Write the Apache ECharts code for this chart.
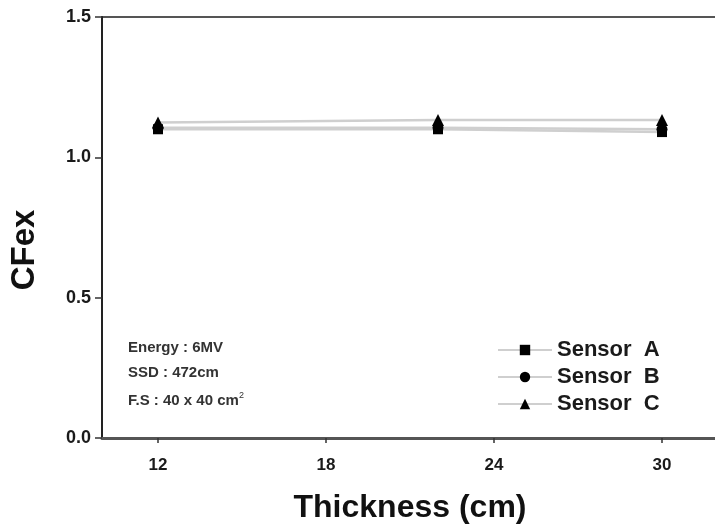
<!DOCTYPE html>
<html><head><meta charset="utf-8">
<script src="https://cdn.jsdelivr.net/npm/echarts@6/dist/echarts.min.js"></script>
<style>html,body{margin:0;padding:0;background:#fff}#c{width:715px;height:530px}</style>
</head><body><div id="c"></div>
<script>
const thickness = [12, 22, 30];
const sensorA = [1.10, 1.10, 1.09];
const sensorB = [1.105, 1.105, 1.10];
const sensorC = [1.124, 1.133, 1.133];
const seriesNames = ['Sensor  A', 'Sensor  B', 'Sensor  C'];
const xTicks = [12, 18, 24, 30];
const yTicks = [0.0, 0.5, 1.0, 1.5];
const notes = ['Energy : 6MV', 'SSD : 472cm', 'F.S : 40 x 40 cm{s|2}'];

const FONT = '"Liberation Sans", Arial, sans-serif';
const chart = echarts.init(document.getElementById('c'), null, {renderer: 'canvas'});
const symbols = ['rect', 'circle', 'triangle'];
const sizes = [10, 11, 12];
const data = [sensorA, sensorB, sensorC];
const series = data.map((vals, i) => ({
  name: seriesNames[i],
  type: 'line',
  data: vals.map((v, j) => [thickness[j], v]),
  symbol: symbols[i],
  symbolSize: sizes[i],
  itemStyle: {color: '#000'},
  lineStyle: {color: '#cfcfcf', width: 2.5},
  z: 3 + i
}));

chart.setOption({
  animation: false,
  backgroundColor: '#fff',
  grid: {left: 102, width: 616, top: 17, height: 421, outerBoundsMode: 'none', containLabel: false,
    show: true, borderColor: '#555', borderWidth: 2},
  legend: {
    orient: 'vertical', left: 492, top: 334, itemWidth: 54, itemHeight: 13, itemGap: 5,
    data: seriesNames,
    textStyle: {fontFamily: FONT, fontWeight: 'bold', fontSize: 22, color: '#1a1a1a'}
  },
  xAxis: {
    type: 'value', min: 10, max: 32, interval: 2,
    name: 'Thickness (cm)', nameLocation: 'middle', nameGap: 54,
    nameTextStyle: {fontFamily: FONT, fontWeight: 'bold', fontSize: 32, color: '#111'},
    axisLine: {lineStyle: {color: '#555', width: 3}},
    axisTick: {show: true, inside: false, length: 5, lineStyle: {color: '#333', width: 1.5},
      customValues: xTicks},
    axisLabel: {fontFamily: FONT, fontWeight: 'bold', fontSize: 17, color: '#1a1a1a', margin: 19,
      customValues: xTicks},
    splitLine: {show: false}
  },
  yAxis: {
    type: 'value', min: 0, max: 1.5, interval: 0.5,
    axisLine: {show: true, lineStyle: {color: '#222', width: 2}},
    axisTick: {show: true, inside: false, length: 7, lineStyle: {color: '#333', width: 1.5}},
    axisLabel: {fontFamily: FONT, fontWeight: 'bold', fontSize: 18, color: '#1a1a1a', margin: 11,
      formatter: v => yTicks.includes(v) ? v.toFixed(1) : ''},
    splitLine: {show: false}
  },
  graphic: [{
    type: 'text', x: 25, y: 250, rotation: Math.PI / 2,
    style: {text: 'CFex', fontFamily: FONT, fontWeight: 'bold', fontSize: 33, fill: '#111',
      align: 'center', verticalAlign: 'middle'}
  }].concat(notes.map((t, i) => ({
    type: 'text', left: 128, top: 340 + i * 25.5,
    style: {text: t, fontFamily: FONT, fontSize: 15, fontWeight: 'bold', fill: '#333',
      rich: {s: {fontSize: 9, verticalAlign: 'top', fontFamily: FONT, fill: '#333', padding: [0,0,10,0]}}}
  }))),
  series: series
});
</script></body></html>
